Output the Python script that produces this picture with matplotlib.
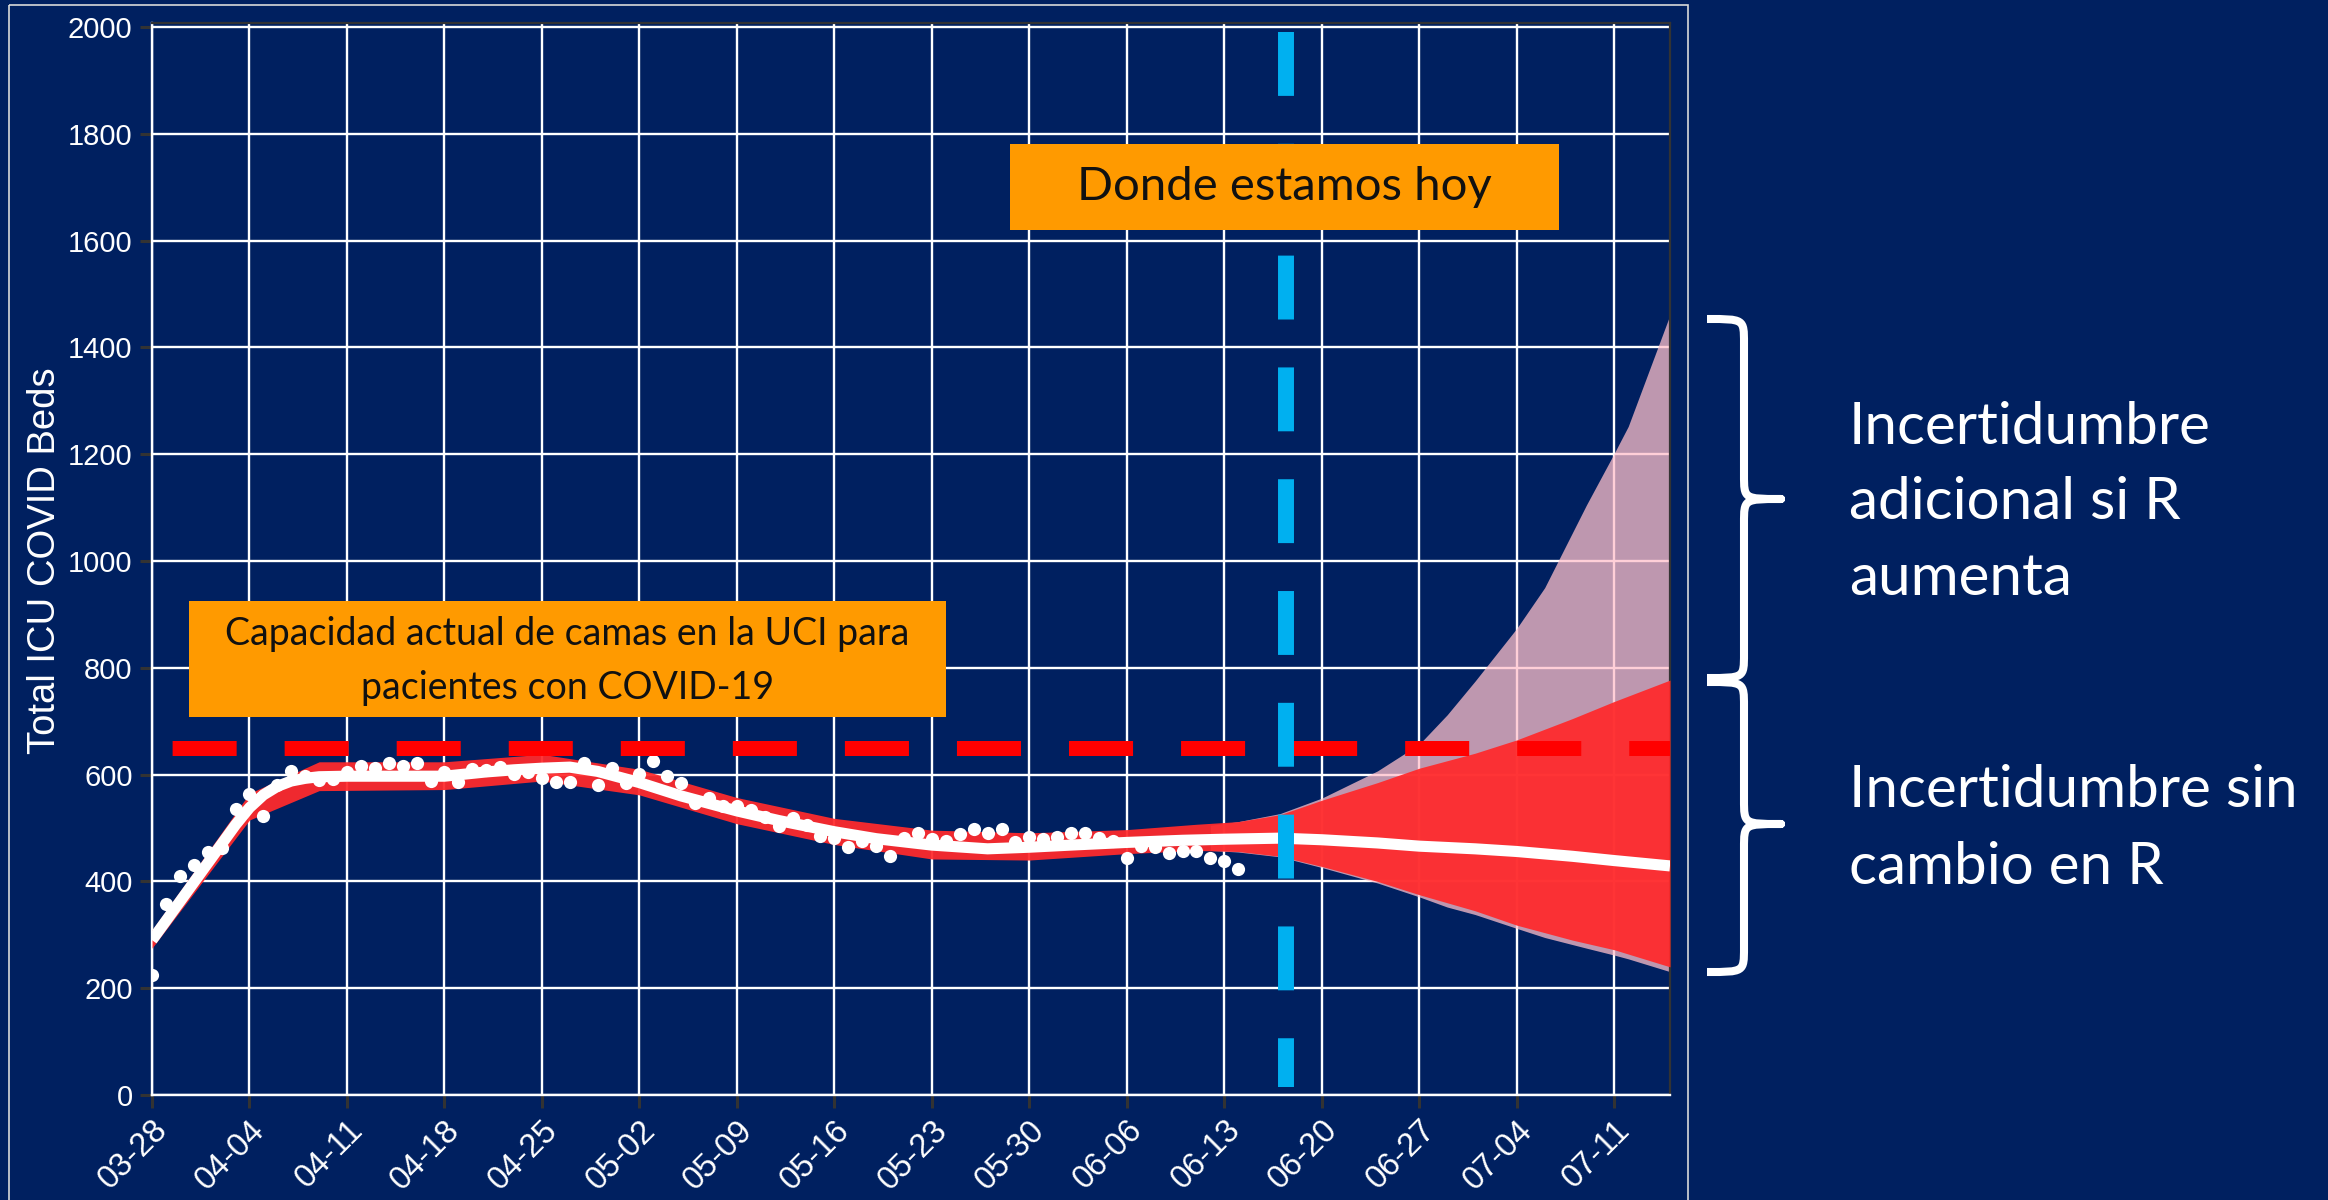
import numpy as np
import matplotlib
matplotlib.use('Agg')
import matplotlib.pyplot as plt
from matplotlib import dates
from matplotlib.patches import Rectangle, PathPatch
from matplotlib.path import Path
from matplotlib.transforms import Affine2D

# Observed ICU beds (daily, starting 2020-03-28)
start = np.datetime64('2020-03-28')
obs_values = [225, 358, 410, 430, 455, 463, 535, 563, 523, 580,
              606, 598, 590, 592, 605, 616, 612, 622, 616, 621,
              588, 604, 587, 610, 609, 615, 601, 605, 594, 587,
              587, 621, 581, 612, 585, 602, 626, 597, 584, 546,
              557, 541, 541, 534, 521, 504, 518, 506, 485, 481,
              465, 476, 467, 447, 481, 491, 479, 476, 488, 499,
              490, 499, 473, 483, 479, 483, 491, 491, 481, 476,
              443, 466, 464, 454, 456, 457, 443, 439, 424]

# Model mean (days after 03-28)
mean_days = [0, 1, 2, 3, 4, 5, 6, 7, 8, 9, 10, 11, 12, 14, 16, 18, 21, 24,
             26, 28, 30, 32, 35, 38, 42, 45, 49, 52, 56, 60, 63, 66, 70, 74,
             77, 81, 84, 88, 91, 95, 98, 102, 105, 109]
mean_vals = [290, 326, 362, 398, 434, 470, 506, 538, 562, 578, 588, 593, 596,
             597, 597, 597, 597, 605, 609, 612, 614, 606, 585, 560, 532, 514,
             493, 480, 468, 461, 464, 468, 473, 477, 479, 481, 478, 472, 466,
             461, 456, 447, 439, 429]

# Uncertainty, no change in R
band_days = [0, 3, 7, 12, 21, 28, 35, 42, 49, 56, 63, 70, 75, 78, 81, 84,
             88, 91, 95, 98, 102, 105, 109]
red_hi = [309, 418, 565, 624, 624, 638, 610, 557, 518, 496, 491, 497, 507,
          512, 525, 552, 585, 612, 640, 665, 705, 737, 777]
red_lo = [275, 378, 515, 570, 572, 588, 562, 508, 469, 442, 440, 452, 458,
          456, 447, 428, 400, 375, 345, 318, 290, 272, 240]

# Additional uncertainty if R increases
pink_days = [76, 78, 81, 84, 88, 91, 93, 95, 98, 100, 103, 105, 106, 109]
pink_hi = [505, 512, 527, 556, 607, 657, 712, 775, 874, 950, 1105, 1202,
           1252, 1461]
pink_lo = [458, 455, 446, 426, 397, 371, 352, 338, 312, 295, 275, 262, 255,
           231]

icu_capacity = 650
today = np.datetime64('2020-06-17T10:00')
x_end = np.datetime64('2020-07-15')

def to_date(d):
    return start + np.array(d).astype('timedelta64[D]')

navy = '#002060'
W, H = 2328, 1200
fig = plt.figure(figsize=(W / 100, H / 100), dpi=100, facecolor=navy)
# image-pixel coordinates (origin top-left) for decorations
px = Affine2D().scale(1 / W, -1 / H).translate(0, 1) + fig.transFigure

ax = fig.add_axes([152 / W, 1 - 1095 / H, (1670 - 152) / W, (1095 - 23) / H])
ax.set_facecolor(navy)
ax.set_axisbelow(True)
ax.grid(True, color='white', lw=1.7)

ax.fill_between(to_date(pink_days), pink_lo, pink_hi, color='#ffc0cb',
                alpha=0.75, lw=0, zorder=2)
ax.fill_between(to_date(band_days), red_lo, red_hi, color='#ff2a2c',
                alpha=0.94, lw=0, zorder=3)
ax.plot(to_date(mean_days), mean_vals, color='white', lw=8, zorder=4,
        solid_capstyle='butt')
ax.plot(to_date(range(len(obs_values))), obs_values, 'o', color='white',
        ms=9.5, mec='none', zorder=5)

ax.axhline(icu_capacity, color='#ff0000', lw=10.8, zorder=6,
           ls=(6.13, (4.27, 3.2)))
ax.plot([today, today], [1990, 15], color='#00b0f0', lw=11.5, zorder=6,
        ls=(0, (4.0, 3.0)))

ax.set_xlim(start, x_end)
ax.set_ylim(0, 2007.5)
ax.set_yticks(np.arange(0, 2001, 200))
ax.set_xticks(to_date(range(0, 106, 7)))
ax.xaxis.set_major_formatter(dates.DateFormatter('%m-%d'))

ax.tick_params(colors='#333333', labelcolor='white', length=9, width=2.2)
ax.tick_params(axis='y', pad=5, labelsize=21)
ax.tick_params(axis='x', pad=5, labelsize=23.5)
for lab in ax.get_xticklabels() + ax.get_yticklabels():
    lab.set_fontfamily('Liberation Sans')
plt.setp(ax.get_xticklabels(), rotation=45, ha='right', va='top',
         rotation_mode='anchor')

for s in ['top', 'right']:
    ax.spines[s].set_color('#333333')
    ax.spines[s].set_linewidth(1.6)
for s in ['left', 'bottom']:
    ax.spines[s].set_color('white')
    ax.spines[s].set_linewidth(1.7)

fig.text(45 / W, 1 - 561 / H, 'Total ICU COVID Beds', rotation=90,
         ha='center', va='center', color='white', fontsize=27.5,
         family='Liberation Sans')

# outer frame
fig.patches.append(Rectangle((9, 5), 1679, 1210, transform=px, fill=False,
                             ec='#d9d9d9', lw=1.2))

# orange labels
fig.patches.append(Rectangle((1010, 144), 549, 86, transform=px,
                             fc='#ff9a00', ec='none', zorder=10))
fig.text(1284.5 / W, 1 - 187 / H, 'Donde estamos hoy', ha='center',
         va='center', fontsize=34, color='#111111', family='Lato', zorder=11)
fig.patches.append(Rectangle((189, 601), 757, 116, transform=px,
                             fc='#ff9a00', ec='none', zorder=10))
fig.text(567.5 / W, 1 - 661 / H,
         'Capacidad actual de camas en la UCI para\npacientes con COVID-19',
         ha='center', va='center', fontsize=27, color='#111111',
         family='Lato', linespacing=1.65, zorder=11)

# braces
def brace(x0, xs, xt, y0, ym, y1, r=24):
    verts = [(x0, y0), (xs, y0), (xs, y0), (xs, y0 + r),
             (xs, ym - r),
             (xs, ym), (xs, ym), (xt, ym),
             (xs, ym), (xs, ym), (xs, ym + r),
             (xs, y1 - r),
             (xs, y1), (xs, y1), (x0, y1)]
    codes = [Path.MOVETO] + [Path.CURVE4] * 3 + [Path.LINETO] + \
        [Path.CURVE4] * 6 + [Path.LINETO] + [Path.CURVE4] * 3
    fig.patches.append(PathPatch(Path(verts, codes), transform=px,
                                 fill=False, ec='white', lw=5.8,
                                 capstyle='butt', joinstyle='round'))

brace(1707, 1744, 1781, 319, 499, 678)
brace(1707, 1744, 1781, 682, 824, 972)

lines_up = ['Incertidumbre', 'adicional si R', 'aumenta']
for txt, yb in zip(lines_up, [444, 519, 595]):
    fig.text(1849 / W, 1 - yb / H, txt, ha='left', va='baseline',
             fontsize=42, color='white', family='Lato')
lines_lo = ['Incertidumbre sin', 'cambio en R']
for txt, yb in zip(lines_lo, [807, 884]):
    fig.text(1849 / W, 1 - yb / H, txt, ha='left', va='baseline',
             fontsize=42, color='white', family='Lato')

fig.savefig('out.png', dpi=100, facecolor=navy)
